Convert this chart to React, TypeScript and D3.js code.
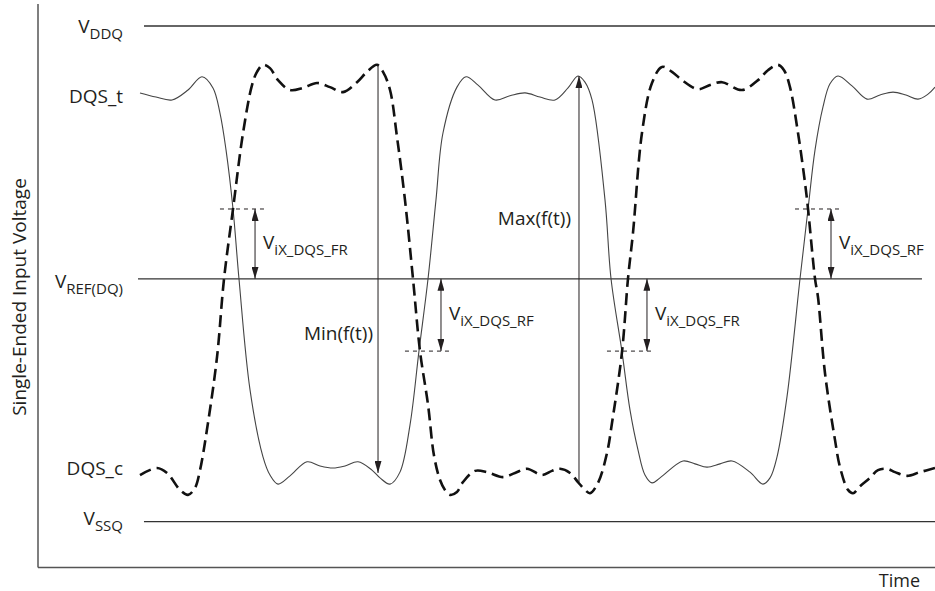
import * as d3 from "d3";

const W = 935;
const H = 591;

// voltage levels in mV, time in ns (axis has no ticks, so units are nominal)
const VDDQ = 1200;
const VREF = 588;
const VSSQ = 0;
const VIX_HI = 757;
const VIX_LO = 413;

// DQS_t (solid)
const dqsT: [number, number][] = [
  [0, 1038], [0.201, 1028], [0.403, 1021], [0.604, 1045], [0.78, 1077],
  [0.918, 1050], [1.006, 989], [1.082, 900], [1.17, 757], [1.245, 588],
  [1.384, 319], [1.547, 157], [1.635, 113], [1.736, 91], [1.887, 111],
  [2.101, 145], [2.264, 135], [2.428, 130], [2.579, 135], [2.742, 145],
  [2.918, 125], [3.019, 106], [3.145, 91], [3.27, 120], [3.396, 234],
  [3.509, 413], [3.623, 588], [3.723, 779], [3.811, 941], [3.987, 1052],
  [4.101, 1077], [4.252, 1057], [4.465, 1021], [4.654, 1031], [4.843, 1038],
  [5.031, 1028], [5.22, 1021], [5.384, 1050], [5.509, 1079], [5.597, 1064],
  [5.686, 1021], [5.849, 779], [5.925, 588], [6.063, 411], [6.164, 270],
  [6.264, 174], [6.352, 113], [6.44, 94], [6.541, 106], [6.83, 147],
  [6.981, 140], [7.132, 132], [7.296, 140], [7.447, 147], [7.673, 120],
  [7.836, 91], [7.925, 106], [8.013, 157], [8.138, 302], [8.302, 588],
  [8.403, 757], [8.491, 900], [8.591, 1004], [8.679, 1060], [8.78, 1079],
  [8.956, 1055], [9.145, 1023], [9.308, 1033], [9.472, 1040], [9.635, 1033],
  [9.786, 1023], [9.912, 1035], [10, 1052],
];

// DQS_c (dashed)
const dqsC: [number, number][] = [
  [0, 113], [0.214, 130], [0.34, 118], [0.503, 77], [0.604, 65],
  [0.692, 82], [0.755, 125], [0.855, 239], [0.969, 399], [1.057, 588],
  [1.17, 757], [1.296, 941], [1.409, 1057], [1.472, 1089], [1.547, 1106],
  [1.635, 1098], [1.736, 1069], [1.887, 1045], [2.05, 1050], [2.226, 1062],
  [2.39, 1052], [2.553, 1040], [2.73, 1064], [2.855, 1089], [2.981, 1106],
  [3.057, 1089], [3.145, 1045], [3.233, 931], [3.333, 779], [3.434, 588],
  [3.522, 413], [3.623, 283], [3.698, 160], [3.774, 101], [3.836, 77],
  [3.899, 65], [3.987, 72], [4.063, 96], [4.214, 123], [4.365, 120],
  [4.566, 108], [4.717, 118], [4.868, 128], [5.057, 113], [5.182, 123],
  [5.283, 128], [5.409, 118], [5.509, 96], [5.597, 77], [5.66, 69],
  [5.761, 94], [5.874, 166], [5.937, 239], [6.063, 411], [6.138, 588],
  [6.201, 699], [6.314, 941], [6.44, 1062], [6.566, 1101], [6.692, 1089],
  [6.818, 1069], [7.019, 1047], [7.17, 1057], [7.321, 1064], [7.572, 1045],
  [7.774, 1069], [7.899, 1093], [8.025, 1106], [8.101, 1093], [8.176, 1052],
  [8.277, 941], [8.365, 820], [8.403, 757], [8.491, 588], [8.528, 544],
  [8.616, 360], [8.742, 198], [8.805, 132], [8.906, 77], [8.969, 69],
  [9.057, 86], [9.182, 106], [9.283, 125], [9.396, 128], [9.497, 120],
  [9.648, 111], [9.811, 120], [10, 130],
];

// horizontal reference lines: [level, tStart, tEnd]
const refLines: [number, number, number][] = [
  [VDDQ, 0.05, 10],
  [VREF, -0.025, 9.836],
  [VSSQ, 0.05, 10],
];

// row labels on the left
const rowLabels = [
  { main: "V", sub: "DDQ", level: VDDQ },
  { main: "DQS_t", sub: "", level: 1038 },
  { main: "V", sub: "REF(DQ)", level: VREF },
  { main: "DQS_c", sub: "", level: 113 },
  { main: "V", sub: "SSQ", level: VSSQ },
];
const rowLabelDy = [7, 10, 9, 0, 3.5];

// VIX crossing markers
const vixMarks = [
  { sub: "iX_DQS_FR", t0: 1.006, t1: 1.572, tArrow: 1.447, level: VIX_HI },
  { sub: "iX_DQS_RF", t0: 3.333, t1: 3.925, tArrow: 3.786, level: VIX_LO },
  { sub: "iX_DQS_FR", t0: 5.874, t1: 6.453, tArrow: 6.377, level: VIX_LO },
  { sub: "iX_DQS_RF", t0: 8.239, t1: 8.83, tArrow: 8.692, level: VIX_HI },
];

const minMark = { label: "Min(f(t))", t: 2.994, from: 1106, to: 118 };
const maxMark = { label: "Max(f(t))", t: 5.522, from: 96, to: 1079 };

const FONT = "'Open Sans', 'DejaVu Sans', sans-serif";
const INK = "#231f20";

export default function App() {
  const x = d3.scaleLinear().domain([0, 10]).range([140, 935]);
  const y = d3.scaleLinear().domain([VSSQ, VDDQ]).range([521.7, 26]);

  const line = d3
    .line<[number, number]>()
    .x(d => x(d[0]))
    .y(d => y(d[1]))
    .curve(d3.curveCatmullRom.alpha(0.5));

  const axisX = 38;
  const axisY = 567.5;

  return (
    <svg
      width={W}
      height={H}
      style={{ position: "absolute", left: 0, top: 0, background: "#fff" }}
      fontFamily={FONT}
    >
      <defs>
        <marker
          id="arr"
          viewBox="0 0 12 7"
          refX={12}
          refY={3.5}
          markerWidth={12}
          markerHeight={7}
          markerUnits="userSpaceOnUse"
          orient="auto-start-reverse"
        >
          <path d="M0,0 L12,3.5 L0,7 z" fill={INK} />
        </marker>
      </defs>

      {/* frame axes */}
      <line x1={axisX} x2={axisX} y1={4} y2={axisY} stroke="#555" strokeWidth={1.5} />
      <line x1={axisX} x2={W} y1={axisY} y2={axisY} stroke="#555" strokeWidth={1.5} />

      {/* reference levels */}
      {refLines.map(([lv, t0, t1], i) => (
        <line key={i} x1={x(t0)} x2={x(t1)} y1={y(lv)} y2={y(lv)} stroke="#333" strokeWidth={1.3} />
      ))}

      {/* waveforms */}
      <path d={line(dqsT) ?? ""} fill="none" stroke="#444" strokeWidth={1.1} />
      <path d={line(dqsC) ?? ""} fill="none" stroke="#111" strokeWidth={2.6} strokeDasharray="12 6" />

      {/* VIX markers */}
      {vixMarks.map((m, i) => {
        const ax = x(m.tArrow);
        const midY = (y(m.level) + y(VREF)) / 2;
        return (
          <g key={i}>
            <line x1={x(m.t0)} x2={x(m.t1)} y1={y(m.level)} y2={y(m.level)} stroke={INK} strokeWidth={1} strokeDasharray="4 4" />
            <line
              x1={ax}
              x2={ax}
              y1={y(m.level)}
              y2={y(VREF)}
              stroke={INK}
              strokeWidth={1}
              markerStart="url(#arr)"
              markerEnd="url(#arr)"
            />
            <text x={ax + 8} y={midY + 5} fontSize={19} fill={INK}>
              V<tspan fontSize={15} dy={6}>{m.sub}</tspan>
            </text>
          </g>
        );
      })}

      {/* Min / Max arrows */}
      <line x1={x(minMark.t)} x2={x(minMark.t)} y1={y(minMark.from)} y2={y(minMark.to)} stroke={INK} strokeWidth={1} markerEnd="url(#arr)" />
      <text x={x(minMark.t) - 5} y={340} textAnchor="end" fontSize={19} fill={INK}>{minMark.label}</text>
      <line x1={x(maxMark.t)} x2={x(maxMark.t)} y1={y(maxMark.from)} y2={y(maxMark.to)} stroke={INK} strokeWidth={1} markerEnd="url(#arr)" />
      <text x={x(maxMark.t) - 8} y={225} textAnchor="end" fontSize={19} fill={INK}>{maxMark.label}</text>

      {/* row labels */}
      {rowLabels.map((r, i) => (
        <text key={i} x={123} y={y(r.level) + rowLabelDy[i]} textAnchor="end" fontSize={19} fill={INK}>
          {r.main}
          {r.sub && <tspan fontSize={15} dy={6}>{r.sub}</tspan>}
        </text>
      ))}

      {/* axis titles */}
      <text transform="translate(26,297) rotate(-90)" textAnchor="middle" fontSize={19} fill={INK}>
        Single-Ended Input Voltage
      </text>
      <text x={920} y={587} textAnchor="end" fontSize={18} fill={INK}>Time</text>
    </svg>
  );
}
